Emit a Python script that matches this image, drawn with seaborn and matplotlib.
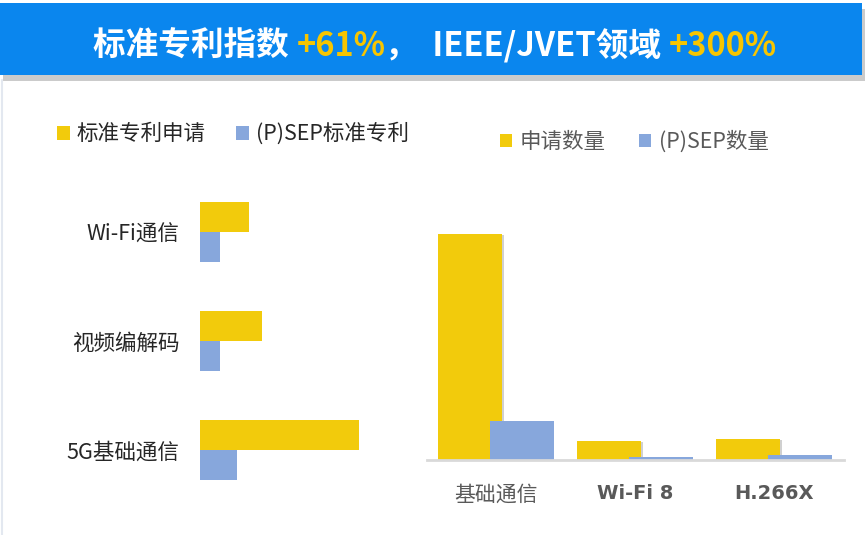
import numpy as np
import pandas as pd
import matplotlib
matplotlib.use('Agg')
import matplotlib.pyplot as plt
import matplotlib.patheffects as pe
from matplotlib.patches import Rectangle, Patch
from matplotlib.offsetbox import TextArea, HPacker, AnchoredOffsetbox
import seaborn as sns

# left chart: share of standard patents by field
left_categories = ['Wi-Fi通信', '视频编解码', '5G基础通信']
left_apply = [49, 62, 159]
left_sep = [20, 20, 37]
left_series = ['标准专利申请', '(P)SEP标准专利']

# right chart: IEEE/JVET counts
right_categories = ['基础通信', 'Wi-Fi 8', 'H.266X']
right_apply = [226, 19, 21]
right_sep = [39, 3, 5]
right_series = ['申请数量', '(P)SEP数量']

title_parts = ['标准专利指数 ', '+61%', '，  IEEE/JVET领域 ', '+300%']

YELLOW = '#F2CB0C'
BLUE = '#87A7DC'
HEADER = '#0A86EE'
TITLE_YELLOW = '#F7C500'
DARK = '#262626'
GREY = '#595959'

sns.set_theme(style='white')
plt.rcParams['font.family'] = ['Noto Sans CJK SC', 'DejaVu Sans']

W, H = 867, 535
fig = plt.figure(figsize=(W / 100, H / 100), dpi=100)
fig.patch.set_facecolor('white')


def fx(px):
    return px / W


def fy(py):
    return 1 - py / H


# header banner
banner = Rectangle((0, fy(75)), fx(862), (75 - 3) / H, transform=fig.transFigure,
                   facecolor=HEADER, edgecolor='none', zorder=1,
                   path_effects=[pe.withSimplePatchShadow(offset=(2, -4), alpha=0.3, shadow_rgbFace='#555555')])
fig.add_artist(banner)

colors = ['white', TITLE_YELLOW, 'white', TITLE_YELLOW]
areas = [TextArea(t, textprops=dict(color=c, fontsize=23.5, fontweight='bold'))
         for t, c in zip(title_parts, colors)]
box = HPacker(children=areas, align='baseline', pad=0, sep=0)
anchored = AnchoredOffsetbox(loc='center', child=box, pad=0, borderpad=0, frameon=False,
                             bbox_to_anchor=(fx(435), fy(46)), bbox_transform=fig.transFigure)
anchored.set_zorder(3)
fig.add_artist(anchored)

# left panel thin border
fig.add_artist(plt.Line2D([fx(1.5), fx(1.5)], [0, fy(80)], transform=fig.transFigure,
                          color='#E3E8F0', lw=1.5))

# ---- left horizontal bars ----
df_left = pd.DataFrame({
    'cat': left_categories * 2,
    'value': left_apply + left_sep,
    'series': [left_series[0]] * 3 + [left_series[1]] * 3,
})
axL = fig.add_axes([fx(200), fy(504.5), fx(200), 327 / H])
sns.barplot(data=df_left, y='cat', x='value', hue='series', orient='h',
            palette=[YELLOW, BLUE], saturation=1, width=0.55, errorbar=None,
            linewidth=0, legend=False, ax=axL)
axL.set_ylim(2.5, -0.5)
axL.set_xlim(0, 200)
for s in axL.spines.values():
    s.set_visible(False)
axL.set_xticks([])
axL.set_xlabel('')
axL.set_ylabel('')
axL.tick_params(axis='y', length=0, pad=15, labelsize=15.5, labelcolor=DARK)
axL.set_facecolor('none')

handlesL = [Patch(facecolor=c, edgecolor='none') for c in [YELLOW, BLUE]]
legL = fig.legend(handlesL, left_series, loc='center left', ncol=2, frameon=False,
                  bbox_to_anchor=(fx(57), fy(134)), bbox_transform=fig.transFigure,
                  fontsize=15.5, handlelength=0.62, handleheight=0.62, handletextpad=0.3,
                  columnspacing=1.4, borderpad=0, borderaxespad=0)
for t in legL.get_texts():
    t.set_color(DARK)

# ---- right vertical bars ----
df_right = pd.DataFrame({
    'cat': right_categories * 2,
    'value': right_apply + right_sep,
    'series': [right_series[0]] * 3 + [right_series[1]] * 3,
})
axR = fig.add_axes([fx(426.5), fy(460), fx(417), 240 / H])
sns.barplot(data=df_right, x='cat', y='value', hue='series',
            palette=[YELLOW, BLUE], saturation=1, width=104 / 139, errorbar=None,
            linewidth=0, legend=False, ax=axR)
# Excel-style overlapping bars: widen each bar around its centre
new_w = 64 / 139
for i, bar in enumerate(axR.patches):
    old_w = bar.get_width()
    bar.set_x(bar.get_x() + (old_w - new_w) / 2)
    bar.set_width(new_w)
    if i < 3:
        bar.set_path_effects([pe.withSimplePatchShadow(offset=(1.5, -1), alpha=0.25,
                                                       shadow_rgbFace='#444444'), pe.Normal()])
axR.set_xlim(-0.5, 2.5)
axR.set_ylim(0, 240)
sns.despine(ax=axR, left=True)
axR.spines['bottom'].set_color('#D9D9D9')
axR.spines['bottom'].set_linewidth(2)
axR.set_yticks([])
axR.set_xlabel('')
axR.set_ylabel('')
axR.tick_params(axis='x', length=0, pad=17, labelsize=15, labelcolor=GREY)
axR.set_facecolor('none')
for i, lbl in enumerate(axR.get_xticklabels()):
    if i > 0:
        lbl.set_fontweight('bold')
        lbl.set_fontfamily(['DejaVu Sans'])
        lbl.set_fontsize(14)

handlesR = [Patch(facecolor=c, edgecolor='none') for c in [YELLOW, BLUE]]
legR = fig.legend(handlesR, right_series, loc='center left', ncol=2, frameon=False,
                  bbox_to_anchor=(fx(500), fy(142)), bbox_transform=fig.transFigure,
                  fontsize=15.5, handlelength=0.58, handleheight=0.58, handletextpad=0.33,
                  columnspacing=1.55, borderpad=0, borderaxespad=0)
for t in legR.get_texts():
    t.set_color(GREY)

fig.savefig('out.png', dpi=100)
